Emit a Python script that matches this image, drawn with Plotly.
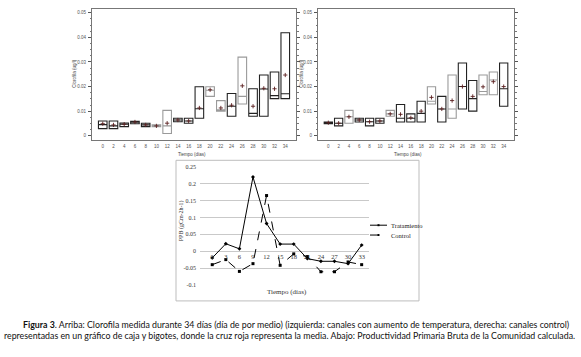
import plotly.graph_objects as go

W, H = 581, 357
def fx(px): return px / W
def fy(py): return 1 - py / H

# ---------------- data ----------------
days = ["0", "2", "4", "6", "8", "10", "12", "14", "16", "18", "20", "22", "24", "26", "28", "30", "32", "34"]

# Left: channels with temperature increase
left_q1   = [0.0029, 0.0029, 0.0037, 0.0049, 0.0037, 0.0037, 0.0009, 0.0057, 0.0051, 0.0071, 0.0160, 0.0100, 0.0079, 0.0129, 0.0079, 0.0079, 0.0151, 0.0151]
left_med  = [0.0045, 0.0040, 0.0047, 0.0056, 0.0044, 0.0040, 0.0040, 0.0064, 0.0060, 0.0110, 0.0185, 0.0105, 0.0120, 0.0160, 0.0091, 0.0190, 0.0163, 0.0171]
left_q3   = [0.0060, 0.0060, 0.0052, 0.0059, 0.0051, 0.0044, 0.0103, 0.0071, 0.0071, 0.0199, 0.0199, 0.0143, 0.0172, 0.0320, 0.0191, 0.0247, 0.0259, 0.0419]
left_mean = [0.0049, 0.0044, 0.0047, 0.0056, 0.0044, 0.0040, 0.0051, 0.0064, 0.0060, 0.0113, 0.0187, 0.0113, 0.0124, 0.0203, 0.0120, 0.0193, 0.0191, 0.0247]

# Right: control channels
right_q1   = [0.0049, 0.0040, 0.0051, 0.0056, 0.0040, 0.0051, 0.0079, 0.0056, 0.0056, 0.0056, 0.0129, 0.0056, 0.0071, 0.0109, 0.0100, 0.0167, 0.0167, 0.0120]
right_med  = [0.0053, 0.0051, 0.0077, 0.0064, 0.0057, 0.0060, 0.0089, 0.0071, 0.0071, 0.0091, 0.0140, 0.0109, 0.0109, 0.0200, 0.0151, 0.0180, 0.0227, 0.0191]
right_q3   = [0.0056, 0.0071, 0.0103, 0.0071, 0.0071, 0.0071, 0.0103, 0.0127, 0.0089, 0.0140, 0.0199, 0.0160, 0.0247, 0.0296, 0.0225, 0.0247, 0.0259, 0.0296]
right_mean = [0.0053, 0.0051, 0.0077, 0.0064, 0.0057, 0.0060, 0.0089, 0.0087, 0.0073, 0.0100, 0.0156, 0.0109, 0.0143, 0.0200, 0.0160, 0.0199, 0.0220, 0.0200]

y_ticks = [0, 0.01, 0.02, 0.03, 0.04, 0.05]
y_ticktext = ["0", "0.01", "0.02", "0.03", "0.04", "0.05"]

# Bottom: gross primary productivity
ppb_days = ["0", "3", "6", "9", "12", "15", "18", "21", "24", "27", "30", "33"]
tratamiento = [-0.02, 0.022, 0.007, 0.22, 0.082, 0.021, 0.021, -0.022, -0.03, -0.03, -0.037, 0.018]
control     = [-0.04, -0.025, -0.06, -0.037, 0.165, -0.042, -0.008, -0.016, -0.061, -0.061, -0.032, -0.04]
ppb_ticks = [0.25, 0.2, 0.15, 0.1, 0.05, 0, -0.05, -0.1]
ppb_ticktext = ["0.25", "0.2", "0.15", "0.1", "0.05", "0", "-0.05", "-0.1"]
series_names = ["Tratamiento", "Control"]

# style groups (edge shade of each box)
left_shade  = ["d", "d", "d", "d", "d", "g", "g", "d", "d", "d", "g", "g", "d", "g", "d", "d", "d", "d"]
right_shade = ["d", "d", "g", "d", "d", "d", "g", "d", "d", "d", "g", "d", "g", "d", "d", "g", "g", "d"]

DARK, GRAY = "#222222", "#9a9a9a"
SANS = "Liberation Sans, Arial, sans-serif"
SERIF = "Liberation Serif, Times New Roman, serif"

fig = go.Figure()

def add_boxes(q1, med, q3, mean, shade, xa, ya):
    for key, col in (("g", GRAY), ("d", DARK)):
        idx = [i for i, s in enumerate(shade) if s == key]
        fig.add_trace(go.Box(
            x=idx, q1=[q1[i] for i in idx], median=[med[i] for i in idx],
            q3=[q3[i] for i in idx], lowerfence=[q1[i] for i in idx],
            upperfence=[q3[i] for i in idx], width=0.8, whiskerwidth=0,
            fillcolor="rgba(0,0,0,0)", line=dict(color=col, width=1.1),
            boxpoints=False, showlegend=False, xaxis=xa, yaxis=ya))
    fig.add_trace(go.Scatter(
        x=list(range(len(mean))), y=mean, mode="markers",
        marker=dict(symbol="cross-thin", size=3, line=dict(width=0.9, color="#5a1f1f")),
        showlegend=False, xaxis=xa, yaxis=ya))

add_boxes(left_q1, left_med, left_q3, left_mean, left_shade, "x", "y")
add_boxes(right_q1, right_med, right_q3, right_mean, right_shade, "x2", "y2")

fig.add_trace(go.Scatter(
    x=list(range(len(ppb_days))), y=tratamiento, mode="lines+markers", name=series_names[0],
    line=dict(color="black", width=1), marker=dict(symbol="diamond", size=3, color="black"),
    showlegend=False, xaxis="x3", yaxis="y3"))
fig.add_trace(go.Scatter(
    x=list(range(len(ppb_days))), y=control, mode="lines+markers", name=series_names[1],
    line=dict(color="black", width=1, dash="dash"), marker=dict(symbol="square", size=3, color="black"),
    showlegend=False, xaxis="x3", yaxis="y3"))

tick_font = dict(family=SANS, size=4.5, color="#555")

def top_x(dom):
    return dict(domain=dom, range=[-1, 18], tickvals=list(range(len(days))), ticktext=days,
                showline=True, linecolor="#777", linewidth=1, mirror=True, ticks="",
                showgrid=False, zeroline=False, tickfont=tick_font, ticklabelstandoff=2)

def top_y(anchor):
    return dict(domain=[fy(139), fy(6)], range=[-0.0016, 0.0516], tickvals=y_ticks, ticktext=y_ticktext,
                showline=True, linecolor="#777", linewidth=1, mirror="ticks", ticks="outside",
                ticklen=3, tickcolor="#555", minor=dict(dtick=0.0025, ticks="outside", ticklen=1.5, tickcolor="#777"),
                showgrid=False, zeroline=False, tickfont=tick_font, anchor=anchor, ticklabelstandoff=1)

# manual legend (line samples as decorative shapes)
legend_shapes = [
    dict(type="line", xref="paper", yref="paper", x0=fx(370), x1=fx(387), y0=fy(226), y1=fy(226),
         line=dict(color="black", width=1)),
    dict(type="rect", xref="paper", yref="paper", x0=fx(377.5), x1=fx(379.5), y0=fy(227), y1=fy(225),
         fillcolor="black", line=dict(width=0)),
    dict(type="line", xref="paper", yref="paper", x0=fx(370), x1=fx(387), y0=fy(236), y1=fy(236),
         line=dict(color="black", width=1, dash="dash")),
    dict(type="rect", xref="paper", yref="paper", x0=fx(377.5), x1=fx(379.5), y0=fy(237), y1=fy(235),
         fillcolor="black", line=dict(width=0)),
]

fig.update_layout(
    width=W, height=H, margin=dict(l=0, r=0, t=0, b=0),
    paper_bgcolor="white", plot_bgcolor="white",
    boxmode="overlay", showlegend=False,
    xaxis=dict(top_x([fx(92), fx(296)]), anchor="y"),
    yaxis=top_y("x"),
    xaxis2=dict(top_x([fx(318), fx(514)]), anchor="y2"),
    yaxis2=top_y("x2"),
    xaxis3=dict(domain=[fx(200), fx(369)], range=[-0.9, 11.54], anchor="free",
                position=fy(252.3), tickvals=list(range(len(ppb_days))), ticktext=ppb_days,
                showline=False, ticks="", showgrid=False, zeroline=False,
                tickfont=dict(family=SERIF, size=6.5, color="#333"), ticklabelstandoff=0),
    yaxis3=dict(domain=[fy(286.7), fy(166.7)], range=[-0.1, 0.25], tickvals=ppb_ticks,
                ticktext=ppb_ticktext, showline=False, ticks="", showgrid=True,
                gridcolor="#c9c9c9", gridwidth=1, zeroline=False, anchor="x3",
                tickfont=dict(family=SERIF, size=6, color="#333"), ticklabelstandoff=3),
    shapes=[dict(type="rect", xref="paper", yref="paper", x0=fx(176), x1=fx(419),
                 y0=fy(303), y1=fy(160), line=dict(color="#bdbdbd", width=1))] + legend_shapes,
)

ann = []
def a(text, x, y, size, family=SANS, angle=0, xanchor="center", color="#444"):
    ann.append(dict(text=text, x=fx(x), y=fy(y), xref="paper", yref="paper", showarrow=False,
                    textangle=angle, xanchor=xanchor, yanchor="middle",
                    font=dict(family=family, size=size, color=color)))

a("Clorofila (ug/l)", 75, 72, 4.5, angle=-90)
a("Clorofila (ug/l)", 302, 72, 4.5, angle=-90)
a("Tiempo (días)", 192, 154, 4.5)
a("Tiempo (días)", 408, 154, 4.5)
a("PPB (gCm-2h-1)", 181, 222, 6, family=SERIF, angle=-90, color="#333")
a("Tiempo (días)", 287, 294, 7, family=SERIF, color="#333")
a(series_names[0], 389, 226, 6.5, family=SERIF, xanchor="left", color="#222")
a(series_names[1], 389, 236, 6.5, family=SERIF, xanchor="left", color="#222")

CAP = "Lato, Noto Sans, sans-serif"
a("<b>Figura 3</b>. Arriba: Clorofila medida durante 34 días (día de por medio) (izquierda: canales con aumento de temperatura, derecha: canales control)",
  21, 327, 8.8, family=CAP, xanchor="left", color="#111")
a("representadas en un gráfico de caja y bigotes, donde la cruz roja representa la media. Abajo: Productividad Primaria Bruta de la Comunidad calculada.",
  2, 338, 8.8, family=CAP, xanchor="left", color="#111")
fig.update_layout(annotations=ann)

fig.write_html("out.html", config={"displayModeBar": False},
               post_script="document.body.style.margin='0px';")
